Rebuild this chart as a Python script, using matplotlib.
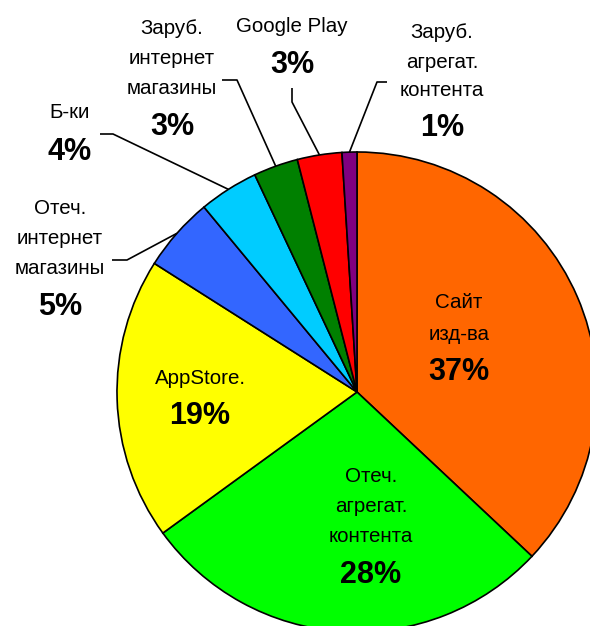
import numpy as np
import matplotlib
matplotlib.use('Agg')
import matplotlib.pyplot as plt

# данные
names = ["Сайт\nизд-ва", "Отеч.\nагрегат.\nконтента", "AppStore.",
         "Отеч.\nинтернет\nмагазины", "Б-ки", "Заруб.\nинтернет\nмагазины",
         "Google Play", "Заруб.\nагрегат.\nконтента"]
shares = [37, 28, 19, 5, 4, 3, 3, 1]
colors = ["#FF6600", "#00FF00", "#FFFF00", "#3366FF", "#00CCFF",
          "#008000", "#FF0000", "#800080"]

plt.rcParams['font.family'] = ['Liberation Sans', 'DejaVu Sans']

W, H = 590, 626
fig = plt.figure(figsize=(W / 100, H / 100), dpi=100)
ax = fig.add_axes([0, 0, 1, 1])

cx, cy, R = 357, H - 392, 240
wedges, _ = ax.pie(shares, colors=colors, startangle=90, counterclock=False,
                   center=(cx, cy), radius=R,
                   wedgeprops=dict(edgecolor='black', linewidth=1.2))
ax.set_xlim(0, W)
ax.set_ylim(0, H)
ax.set_aspect('equal')
ax.axis('off')

def Y(y):
    return H - y

# подписи внутри: (x, y строк, y процента)
inside = {
    0: (459, [303, 335], 372),
    1: (371, [476, 506, 536], 575),
    2: (200, [378], 416),
}
# подписи снаружи: (x, y строк, y процента, точки выноски от локтя к концу)
outside = {
    3: (60, [209, 238, 268], 307, [(112, 260), (127, 260)]),
    4: (70, [112], 152, [(100, 134), (113, 134)]),
    5: (172, [28, 58, 88], 127, [(222, 80), (237, 80)]),
    6: (292, [27], 65, [(292, 88), (292, 102)]),
    7: (442, [32, 62, 90], 128, [(387, 82), (377, 82)]),
}

def put(i, x, ys, yp):
    for line, y in zip(names[i].split("\n"), ys):
        ax.text(x, Y(y), line, ha='center', va='center', fontsize=14.8)
    ax.text(x, Y(yp), f"{shares[i]}%", ha='center', va='center',
            fontsize=22, fontweight='bold')

for i, (x, ys, yp) in inside.items():
    put(i, x, ys, yp)

for i, (x, ys, yp, pts) in outside.items():
    put(i, x, ys, yp)
    w = wedges[i]
    a = np.deg2rad((w.theta1 + w.theta2) / 2)
    ex, ey = cx + R * np.cos(a), cy + R * np.sin(a)
    xs = [p[0] for p in pts] + [ex]
    ysl = [Y(p[1]) for p in pts] + [ey]
    ax.plot(xs, ysl, color='black', linewidth=1.2, solid_capstyle='butt')

fig.savefig("out.png", dpi=100, facecolor='white')
